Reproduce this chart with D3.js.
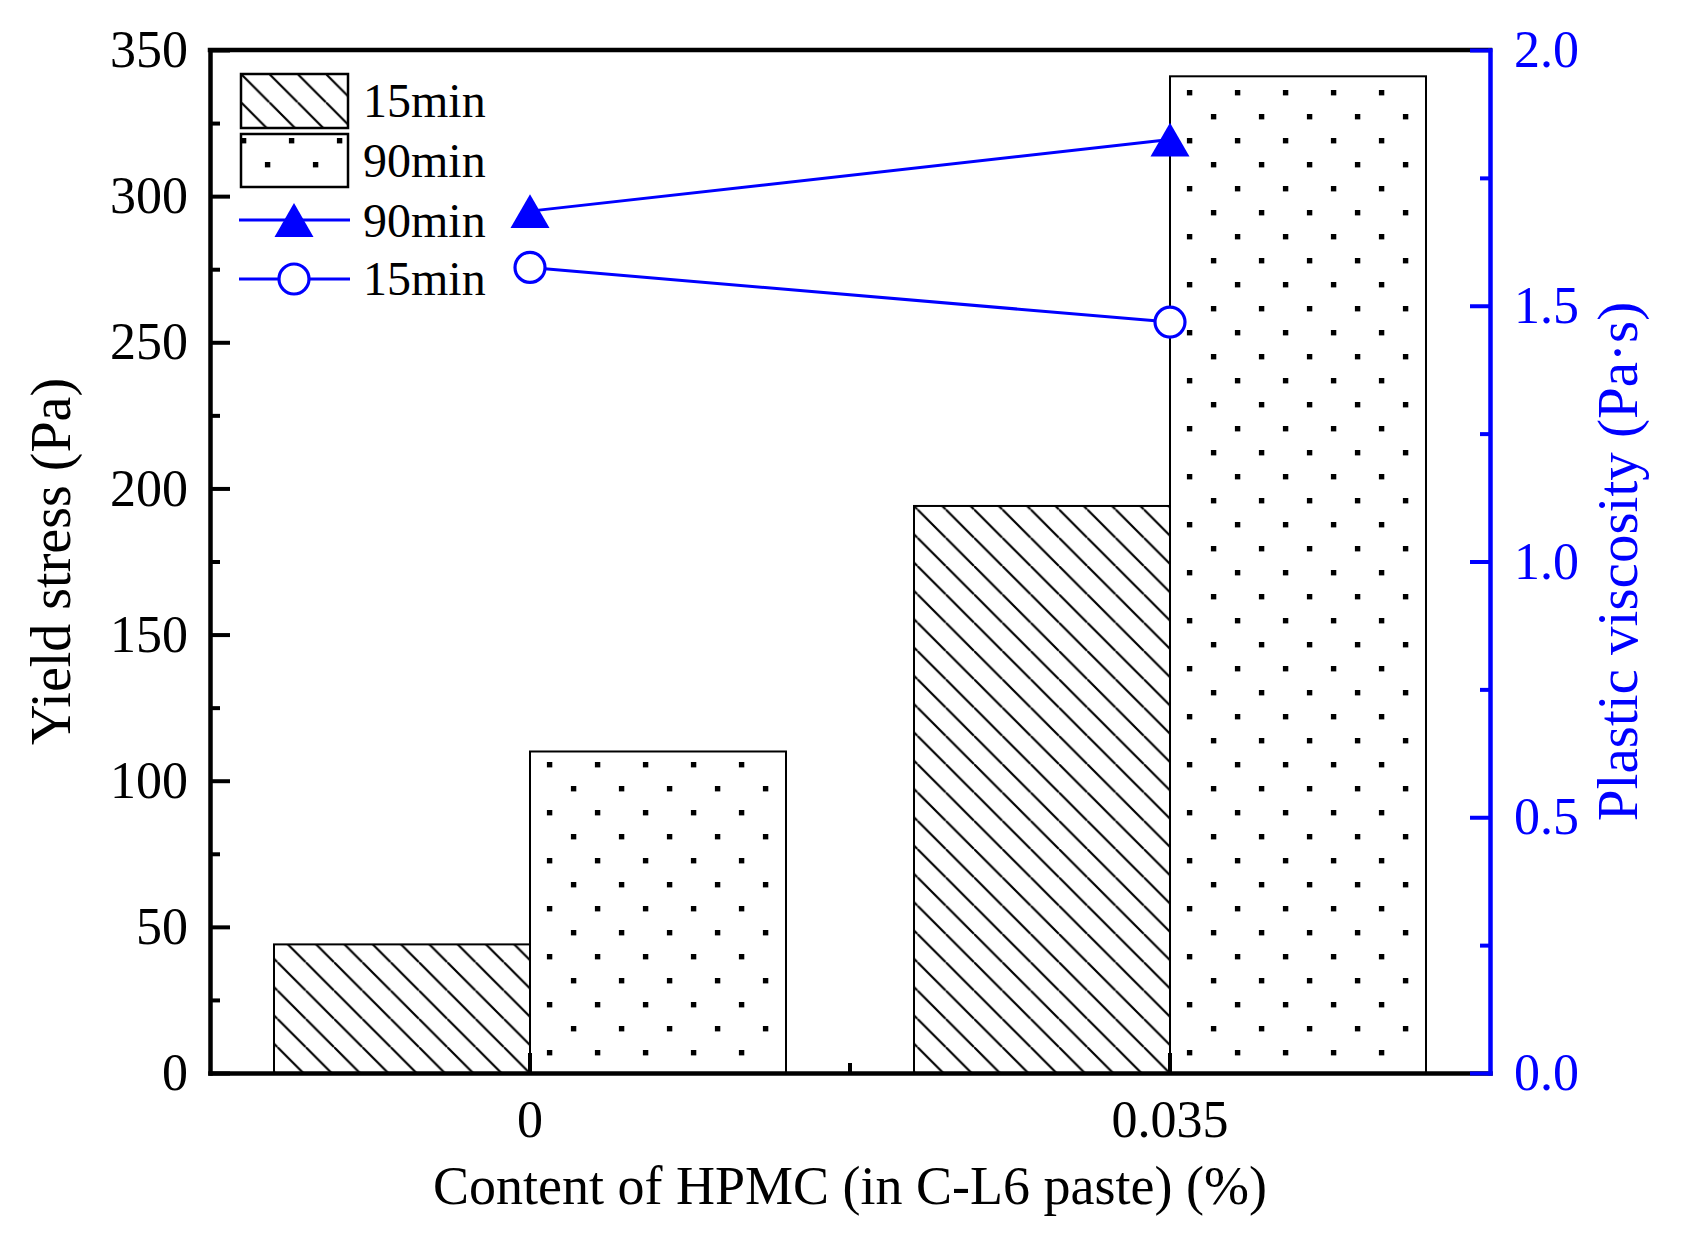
<!DOCTYPE html>
<html>
<head>
<meta charset="utf-8">
<script src="https://cdn.jsdelivr.net/npm/d3@7"></script>
<style>
body { margin: 0; background: #fff; }
text { font-family: "Liberation Serif", "Times New Roman", serif; }
</style>
</head>
<body>
<div id="root"></div>
<script>
// data
var categories = ['0', '0.035'];
var barSeries = ['15min', '90min'];
var yieldStress15 = [44, 194];
var yieldStress90 = [110, 341];
var viscosity90 = [1.685, 1.825];
var viscosity15 = [1.575, 1.468];
var leftTicks = [0, 50, 100, 150, 200, 250, 300, 350];
var rightTicks = [0, 0.5, 1.0, 1.5, 2.0];
var xTitle = 'Content of HPMC (in C-L6 paste) (%)';
var yTitle = 'Yield stress (Pa)';
var y2Title = 'Plastic viscosity (Pa\u00b7s)';

var W = 1681, H = 1245;
var pLeft = 210, pRight = 1490, pTop = 50, pBottom = 1073;
var blue = '#0000ff';

var svg = d3.select('#root').append('svg').attr('width', W).attr('height', H);
var defs = svg.append('defs');

function hatch(id, x, y) {
    var p = defs.append('pattern').attr('id', id).attr('patternUnits', 'userSpaceOnUse')
        .attr('x', x).attr('y', y).attr('width', 28.3).attr('height', 28.3);
    p.append('path').attr('d', 'M0,0L28.3,28.3M-28.3,0L0,28.3M0,-28.3L28.3,0')
        .attr('stroke', '#000').attr('stroke-width', 2.2);
}
hatch('hatch', 10.8, 0);
hatch('hatchLeg', 241, 74);

var dots = defs.append('pattern').attr('id', 'dots').attr('patternUnits', 'userSpaceOnUse')
    .attr('width', 48).attr('height', 48);
dots.append('rect').attr('x', 27.6 - 2.7).attr('y', 20.7 - 2.7).attr('width', 5.4).attr('height', 5.4);
dots.append('rect').attr('x', 3.6 - 2.7).attr('y', 44.7 - 2.7).attr('width', 5.4).attr('height', 5.4);

var fills = { '15min': 'url(#hatch)', '90min': 'url(#dots)' };

var x0 = d3.scaleBand().domain(categories).range([pLeft, pRight]);
var x1 = d3.scaleBand().domain(barSeries).range([0, x0.bandwidth()]).paddingOuter(0.25);
var yL = d3.scaleLinear().domain([0, 350]).range([pBottom, pTop]);
var yR = d3.scaleLinear().domain([0, 2]).range([pBottom, pTop]);

// bars
var groups = svg.append('g').selectAll('g')
    .data(categories)
    .enter()
    .append('g')
    .attr('transform', function (d) { return 'translate(' + x0(d) + ',0)'; });
groups.selectAll('rect')
    .data(function (d, i) {
        return [{ s: '15min', v: yieldStress15[i] }, { s: '90min', v: yieldStress90[i] }];
    })
    .enter()
    .append('rect')
    .attr('x', function (d) { return x1(d.s); })
    .attr('y', function (d) { return yL(d.v); })
    .attr('width', x1.bandwidth())
    .attr('height', function (d) { return yL(0) - yL(d.v); })
    .attr('fill', function (d) { return fills[d.s]; })
    .attr('stroke', '#000')
    .attr('stroke-width', 2);

// viscosity lines
var cx = function (d, i) { return x0(categories[i]) + x0.bandwidth() / 2; };
var line = d3.line().x(cx).y(function (d) { return yR(d); });
[viscosity90, viscosity15].forEach(function (s) {
    svg.append('path').attr('d', line(s)).attr('fill', 'none')
        .attr('stroke', blue).attr('stroke-width', 3);
});
var triSize = 658;
var triShift = Math.sqrt(triSize / (Math.sqrt(3) * 3)) / 2;
var tri = d3.symbol().type(d3.symbolTriangle).size(triSize);
svg.append('g').selectAll('path')
    .data(viscosity90)
    .enter()
    .append('path')
    .attr('d', tri)
    .attr('transform', function (d, i) { return 'translate(' + cx(d, i) + ',' + (yR(d) + triShift) + ')'; })
    .attr('fill', blue);
svg.append('g').selectAll('circle')
    .data(viscosity15)
    .enter()
    .append('circle')
    .attr('cx', cx)
    .attr('cy', function (d) { return yR(d); })
    .attr('r', 15)
    .attr('fill', '#fff')
    .attr('stroke', blue)
    .attr('stroke-width', 3.2);

// axes
function styleAxis(g, size) {
    g.selectAll('.tick line').attr('stroke-width', 4);
    g.selectAll('.domain').attr('stroke-width', 4.5).attr('stroke-linecap', 'square');
    g.selectAll('text').attr('font-size', size).style('font-family', '"Liberation Serif", serif');
}
svg.append('line').attr('x1', pLeft).attr('x2', pRight).attr('y1', pTop).attr('y2', pTop)
    .attr('stroke', '#000').attr('stroke-width', 4.5).attr('stroke-linecap', 'square');

var gx = svg.append('g').attr('transform', 'translate(0,' + pBottom + ')')
    .call(d3.axisBottom(x0).tickSize(-20).tickSizeOuter(0).tickPadding(27));
styleAxis(gx, 52);
svg.append('line')
    .attr('x1', x0(categories[1])).attr('x2', x0(categories[1]))
    .attr('y1', pBottom).attr('y2', pBottom - 10)
    .attr('stroke', '#000').attr('stroke-width', 4);

var gl = svg.append('g').attr('transform', 'translate(' + pLeft + ',0)')
    .call(d3.axisLeft(yL).tickValues(leftTicks).tickSize(-20).tickSizeOuter(0).tickPadding(22));
styleAxis(gl, 52);
var glm = svg.append('g').attr('transform', 'translate(' + pLeft + ',0)')
    .call(d3.axisLeft(yL).tickValues(d3.range(25, 350, 50)).tickSize(-10).tickFormat(''));
glm.select('.domain').remove();
styleAxis(glm, 52);

var gr = svg.append('g').attr('transform', 'translate(' + pRight + ',0)').attr('color', blue)
    .call(d3.axisRight(yR).tickValues(rightTicks).tickFormat(d3.format('.1f'))
        .tickSize(-20).tickSizeOuter(0).tickPadding(24));
styleAxis(gr, 52);
var grm = svg.append('g').attr('transform', 'translate(' + pRight + ',0)').attr('color', blue)
    .call(d3.axisRight(yR).tickValues(d3.range(0.25, 2, 0.5)).tickSize(-10).tickFormat(''));
grm.select('.domain').remove();
styleAxis(grm, 52);

// titles
svg.append('text').attr('x', (pLeft + pRight) / 2).attr('y', 1204)
    .attr('text-anchor', 'middle').attr('font-size', 54).text(xTitle);
svg.append('text').attr('transform', 'translate(70,' + (pTop + pBottom) / 2 + ') rotate(-90)')
    .attr('text-anchor', 'middle').attr('font-size', 56).text(yTitle);
svg.append('text').attr('transform', 'translate(1637,' + (pTop + pBottom) / 2 + ') rotate(-90)')
    .attr('text-anchor', 'middle').attr('font-size', 57).attr('fill', blue).text(y2Title);

// legend
var leg = svg.append('g');
leg.append('rect').attr('x', 241).attr('y', 74).attr('width', 107).attr('height', 54)
    .attr('fill', 'url(#hatchLeg)').attr('stroke', '#000').attr('stroke-width', 2.5);
leg.append('rect').attr('x', 241).attr('y', 134).attr('width', 107).attr('height', 53)
    .attr('fill', 'url(#dots)').attr('stroke', '#000').attr('stroke-width', 2.5);
[220, 279].forEach(function (y) {
    leg.append('line').attr('x1', 239).attr('x2', 350).attr('y1', y).attr('y2', y)
        .attr('stroke', blue).attr('stroke-width', 3);
});
leg.append('path').attr('d', tri).attr('transform', 'translate(294,' + (220 + triShift) + ')').attr('fill', blue);
leg.append('circle').attr('cx', 294).attr('cy', 279).attr('r', 15)
    .attr('fill', '#fff').attr('stroke', blue).attr('stroke-width', 3.2);
var legLabels = ['15min', '90min', '90min', '15min'];
var legBase = [117, 177, 237, 295];
leg.selectAll('text.lab')
    .data(legLabels)
    .enter()
    .append('text')
    .attr('class', 'lab')
    .attr('x', 363)
    .attr('y', function (d, i) { return legBase[i]; })
    .attr('font-size', 48)
    .text(function (d) { return d; });
</script>
</body>
</html>
